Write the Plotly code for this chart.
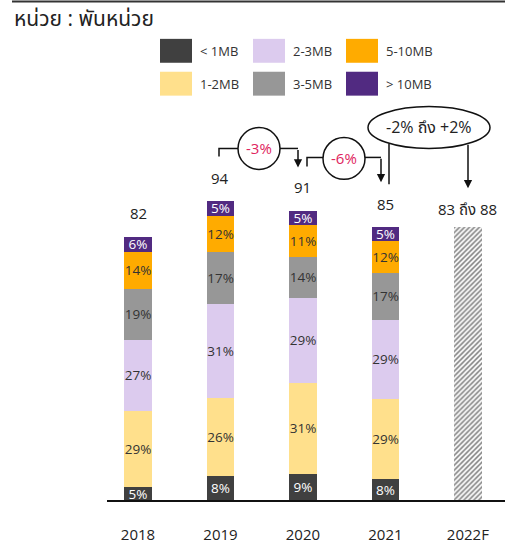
import plotly.graph_objects as go

# ---------------- data ----------------
years = ["2018", "2019", "2020", "2021", "2022F"]
totals = [82, 94, 91, 85]
forecast_text = "83 ถึง 88"
forecast_value = 85
segment_names = ["< 1MB", "1-2MB", "2-3MB", "3-5MB", "5-10MB", "> 10MB"]
pct_lt1 = [5, 8, 9, 8]
pct_1_2 = [29, 26, 31, 29]
pct_2_3 = [27, 31, 29, 29]
pct_3_5 = [19, 17, 14, 17]
pct_5_10 = [14, 12, 11, 12]
pct_gt10 = [6, 5, 5, 5]
growth_labels = ["-3%", "-6%", "-2% ถึง +2%"]
title_text = "หน่วย : พันหน่วย"

seg_pcts = [pct_lt1, pct_1_2, pct_2_3, pct_3_5, pct_5_10, pct_gt10]
seg_colors = ["#404040", "#FFE08C", "#DCCBEE", "#979797", "#FFAB00", "#512A81"]
seg_text_colors = ["#FFFFFF", "#333333", "#333333", "#333333", "#333333", "#FFFFFF"]

W, H = 505, 544
FONT = "Open Sans, Noto Sans Thai, Garuda, Loma, Noto Sans, sans-serif"


def px(x):
    return x / W


def py(y):
    return 1 - y / H


fig = go.Figure()

for name, pcts, col, tcol in zip(segment_names, seg_pcts, seg_colors, seg_text_colors):
    vals = [t * p / 100 for t, p in zip(totals, pcts)] + [None]
    txt = [f"{p}%" for p in pcts] + [""]
    fig.add_trace(go.Bar(
        x=years, y=vals, name=name, marker=dict(color=col, line=dict(width=0)),
        text=txt, textposition="inside", insidetextanchor="middle", textangle=0,
        constraintext="none", textfont=dict(color=tcol, size=13.5, family=FONT),
        width=0.335, showlegend=False, hoverinfo="skip"))

fig.add_trace(go.Bar(
    x=years, y=[None] * 4 + [forecast_value], name="forecast",
    marker=dict(color="white", line=dict(width=0),
                pattern=dict(shape="/", fgcolor="#000000", bgcolor="white", size=3.5, solidity=0.45)),
    width=0.335, showlegend=False, hoverinfo="skip"))

annotations = []
shapes = []

# totals above bars
stack_tops = []
for i in range(len(totals)):
    stack_tops.append(sum(totals[i] * p[i] / 100 for p in seg_pcts))
for i in range(len(totals)):
    annotations.append(dict(x=i, y=stack_tops[i], xref="x", yref="y", text=str(totals[i]),
                            showarrow=False, xanchor="center", yanchor="bottom", yshift=11,
                            font=dict(size=15, color="#222222", family=FONT)))
annotations.append(dict(x=4, y=forecast_value, xref="x", yref="y", text=forecast_text,
                        showarrow=False, xanchor="center", yanchor="bottom", yshift=6,
                        font=dict(size=15, color="#222222", family=FONT)))

# title
annotations.append(dict(x=px(12), y=py(18), xref="paper", yref="paper", text=title_text,
                        showarrow=False, xanchor="left", yanchor="middle",
                        font=dict(size=21, color="#222222", family=FONT)))
shapes.append(dict(type="line", xref="paper", yref="paper", x0=px(12), x1=px(505),
                   y0=py(1.5), y1=py(1.5), line=dict(color="#333333", width=2)))

# manual legend (2 rows x 3 columns)
for k, (name, col) in enumerate(zip(segment_names, seg_colors)):
    c, r = k // 2, k % 2
    x0 = 160 + 93 * c
    y0 = 39 + 33 * r
    shapes.append(dict(type="rect", xref="paper", yref="paper", x0=px(x0), x1=px(x0 + 32),
                       y0=py(y0 + 24), y1=py(y0), fillcolor=col, line=dict(width=0)))
    annotations.append(dict(x=px(x0 + 38), y=py(y0 + 12), xref="paper", yref="paper", text=name,
                            showarrow=False, xanchor="left", yanchor="middle",
                            font=dict(size=13, color="#333333", family=FONT)))

LINE = dict(color="#111111", width=1.5)


def path(points):
    s = "M " + " L ".join(f"{px(x)},{py(y)}" for x, y in points)
    return dict(type="path", xref="paper", yref="paper", path=s, line=LINE)


def arrow(x, y_from, y_to):
    annotations.append(dict(x=px(x), y=py(y_to), xref="paper", yref="paper", text="",
                            showarrow=True, ax=0, ay=-(y_to - y_from), arrowhead=2,
                            arrowsize=1.1, arrowwidth=1.5, arrowcolor="#111111", standoff=0))


def label(x, y, text, color, size):
    annotations.append(dict(x=px(x), y=py(y), xref="paper", yref="paper", text=text,
                            showarrow=False, xanchor="center", yanchor="middle",
                            font=dict(size=size, color=color, family=FONT)))


# -3%
shapes.append(path([(219, 157), (219, 149), (238, 149)]))
shapes.append(dict(type="circle", xref="paper", yref="paper", x0=px(238), x1=px(280),
                   y0=py(170), y1=py(128), line=LINE, fillcolor="white"))
shapes.append(path([(280, 149), (298, 149)]))
arrow(298, 149, 168)
label(259, 149, growth_labels[0], "#E0245E", 15)
# -6%
shapes.append(path([(307, 167), (307, 158), (323, 158)]))
shapes.append(dict(type="circle", xref="paper", yref="paper", x0=px(323), x1=px(365),
                   y0=py(180), y1=py(138), line=LINE, fillcolor="white"))
shapes.append(path([(365, 158), (381, 158)]))
arrow(381, 158, 183)
label(344, 159, growth_labels[1], "#E0245E", 15)
# -2% to +2%
shapes.append(dict(type="circle", xref="paper", yref="paper", x0=px(368), x1=px(490),
                   y0=py(149), y1=py(107), line=LINE, fillcolor="white"))
shapes.append(path([(389, 144), (389, 185)]))
arrow(468, 144, 189)
label(429, 127, growth_labels[2], "#222222", 16)

fig.update_layout(
    width=W, height=H, margin=dict(l=0, r=0, t=0, b=0),
    paper_bgcolor="white", plot_bgcolor="white",
    barmode="stack", bargap=0,
    showlegend=False,
    xaxis=dict(domain=[107 / W, 1], range=[-0.376, 4.45], type="category",
               showline=True, linecolor="#111111", linewidth=1.5, showgrid=False, zeroline=False,
               ticks="", ticklabelstandoff=20,
               tickfont=dict(size=15, color="#222222", family=FONT)),
    yaxis=dict(domain=[42 / H, 1 - 100 / H], range=[0, 402 / 3.23], visible=False),
    annotations=annotations, shapes=shapes,
    font=dict(family=FONT),
)

fig.write_html("out.html")
